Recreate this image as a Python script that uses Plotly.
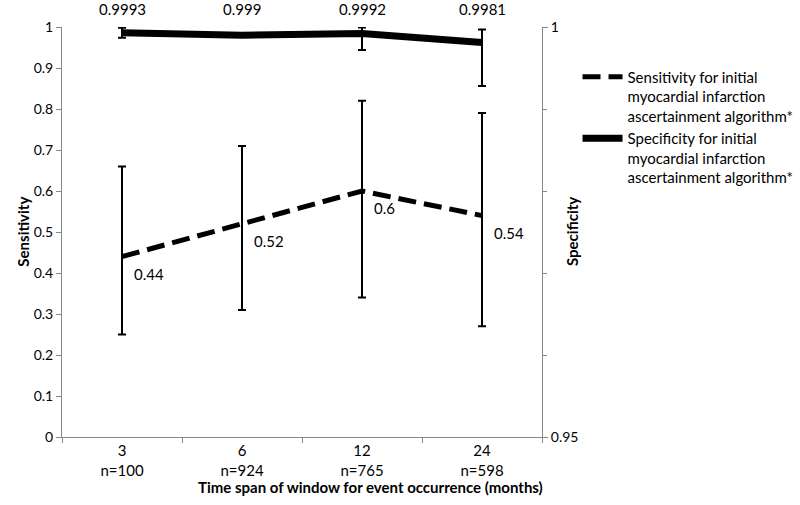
import plotly.graph_objects as go

categories = ["3<br>n=100", "6<br>n=924", "12<br>n=765", "24<br>n=598"]
sens = [0.44, 0.52, 0.6, 0.54]
sens_lo = [0.25, 0.31, 0.34, 0.27]
sens_hi = [0.66, 0.71, 0.82, 0.79]
spec = [0.9993, 0.999, 0.9992, 0.9981]
spec_lo = [0.9987, 0.9988, 0.9972, 0.9928]
spec_hi = [0.9999, 0.9992, 0.99995, 0.9997]
sens_labels = ["0.44", "0.52", "0.6", "0.54"]
spec_labels = ["0.9993", "0.999", "0.9992", "0.9981"]

FONT = "Lato"
GRAY = "#868686"
FS = 15

fig = go.Figure()
fig.add_trace(go.Scatter(
    x=categories, y=sens, mode="lines",
    name="Sensitivity for initial<br>myocardial infarction<br>ascertainment algorithm*",
    line=dict(color="black", width=5, dash="18px,8px"),
    error_y=dict(type="data", symmetric=False,
                 array=[h - v for h, v in zip(sens_hi, sens)],
                 arrayminus=[v - l for v, l in zip(sens, sens_lo)],
                 color="black", thickness=2, width=4),
))
fig.add_trace(go.Scatter(
    x=categories, y=spec, mode="lines", yaxis="y2",
    name="Specificity for initial<br>myocardial infarction<br>ascertainment algorithm*",
    line=dict(color="black", width=7),
    error_y=dict(type="data", symmetric=False,
                 array=[h - v for h, v in zip(spec_hi, spec)],
                 arrayminus=[v - l for v, l in zip(spec, spec_lo)],
                 color="black", thickness=2, width=4),
))

for c, v, t in zip(categories, sens, sens_labels):
    fig.add_annotation(x=c, y=v, text=t, showarrow=False, xanchor="left",
                       yanchor="middle", xshift=10, yshift=-17,
                       font=dict(family=FONT, size=FS, color="black"))
for c, t in zip(categories, spec_labels):
    fig.add_annotation(x=c, y=1.0, yref="paper", text=t, showarrow=False,
                       xanchor="center", yanchor="bottom", yshift=7,
                       font=dict(family=FONT, size=FS, color="black"))

fig.add_annotation(x=0.642, y=-0.095, xref="paper", yref="paper",
                   text="<b>Time span of window for event occurrence (months)</b>",
                   showarrow=False, xanchor="center", yanchor="top",
                   font=dict(family=FONT, size=FS, color="black"))
fig.add_annotation(x=-0.082, y=0.5, xref="paper", yref="paper",
                   text="<b>Sensitivity</b>", textangle=-90, showarrow=False,
                   xanchor="center", yanchor="middle",
                   font=dict(family=FONT, size=FS, color="black"))
fig.add_annotation(x=1.0625, y=0.5, xref="paper", yref="paper",
                   text="<b>Specificity</b>", textangle=-90, showarrow=False,
                   xanchor="center", yanchor="middle",
                   font=dict(family=FONT, size=FS, color="black"))

fig.update_layout(
    width=800, height=505,
    margin=dict(l=62, r=258, t=27, b=68, autoexpand=False),
    paper_bgcolor="white", plot_bgcolor="white",
    font=dict(family=FONT, size=FS, color="black"),
    showlegend=True,
    legend=dict(x=1.074, y=0.918, xanchor="left", yanchor="top",
                valign="top", tracegroupgap=0, itemwidth=40,
                font=dict(family=FONT, size=FS, color="black"),
                bgcolor="rgba(0,0,0,0)"),
    xaxis=dict(type="category", range=[-0.5, 3.5], showline=True,
               linecolor=GRAY, linewidth=1, ticks="outside",
               tickson="boundaries", ticklen=5, tickcolor=GRAY,
               showgrid=False, zeroline=False, automargin=False,
               tickfont=dict(family=FONT, size=FS, color="black")),
    yaxis=dict(range=[0, 1], dtick=0.1, tick0=0, showline=True,
               linecolor=GRAY, linewidth=1, ticks="outside", ticklen=5,
               tickcolor=GRAY, showgrid=False, zeroline=False,
               automargin=False,
               tickfont=dict(family=FONT, size=14, color="black")),
    yaxis2=dict(range=[0.95, 1], overlaying="y", side="right",
                tickvals=[0.95, 1], ticktext=["0.95", "1"],
                showline=True, linecolor=GRAY, linewidth=1,
                ticks="outside", ticklen=5, tickcolor=GRAY,
                minor=dict(dtick=0.01, tick0=0.95, ticks="outside",
                           ticklen=4, tickcolor=GRAY, showgrid=False),
                showgrid=False, zeroline=False, automargin=False,
                tickfont=dict(family=FONT, size=14, color="black")),
)

fig.write_html("out.html", config={"displayModeBar": False},
               post_script="document.body.style.margin='0';document.body.style.overflow='hidden';")
